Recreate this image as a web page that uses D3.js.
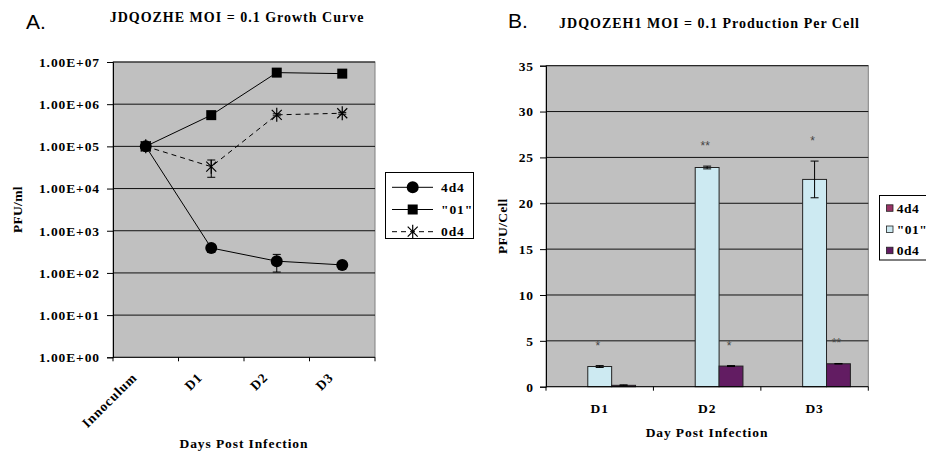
<!DOCTYPE html>
<html><head><meta charset="utf-8">
<script src="https://cdn.jsdelivr.net/npm/d3@7"></script>
<style>
body{margin:0;background:#fff}
svg text{font-family:"Liberation Serif","Times New Roman",serif;font-weight:bold;fill:#000}
svg text.xl{font-size:13.5px;letter-spacing:0.9px}
svg text.ttl{font-size:14px;letter-spacing:1px}
svg text.panel{font-family:"Liberation Sans",Arial,sans-serif;font-weight:normal;font-size:21px;letter-spacing:0}
svg text.sig{font-family:"Liberation Sans",Arial,sans-serif;font-weight:normal;font-size:12px;fill:#444}
</style></head><body>
<svg id="c" width="926" height="453"></svg>
<script>
// Panel A: virus titre over time (PFU/ml, log scale)
const growthDays = ["Innoculum", "D1", "D2", "D3"];
const growth4d4 = [1e5, 390, 190, 155];
const growth4d4Err = [0, 80, 85, 10];
const growth01 = [1e5, 5.5e5, 5.6e6, 5.3e6];
const growth01Err = [0, 2e4, 2e5, 2e5];
const growth0d4 = [1e5, 3.3e4, 5.6e5, 6.1e5];
const growth0d4Err = [0, 1.45e4, 3e4, 3e4];
const growthTicks = [1, 10, 100, 1e3, 1e4, 1e5, 1e6, 1e7];

// Panel B: production per cell
const cellDays = ["D1", "D2", "D3"];
const cellSeries = ["4d4", "\"01\"", "0d4"];
const cell4d4 = [0, 0, 0];
const cell4d4Err = [0, 0, 0];
const cell01 = [2.2, 23.9, 22.6];
const cell01Err = [0.1, 0.15, 2.0];
const cell0d4 = [0.15, 2.25, 2.5];
const cell0d4Err = [0.05, 0.05, 0.03];
const cell4d4Sig = ["", "", ""];
const cell01Sig = ["*", "**", "*"];
const cell0d4Sig = ["", "*", "**"];
const cellTicks = [0, 5, 10, 15, 20, 25, 30, 35];
const cellColors = ["#993366", "#CDEAF2", "#621C62"];

const svg = d3.select("#c");
const PLOT_BG = "#C0C0C0", FRAME = "#808080";

/* ---------------- Panel A ---------------- */
{
  const L = 113, R = 375, T = 62, B = 357.3;
  const x = d3.scaleBand().domain(growthDays).range([L, R]);
  const cx = d => x(d) + x.bandwidth() / 2;
  const y = d3.scaleLog().domain([1, 1e7]).range([B, T]);
  const g = svg.append("g");

  g.append("rect").attr("x", L).attr("y", T).attr("width", R - L).attr("height", B - T)
    .attr("fill", PLOT_BG).attr("stroke", FRAME).attr("stroke-width", 1);

  g.selectAll("line.grid").data(growthTicks.filter(v => v > 1)).join("line")
    .attr("x1", L).attr("x2", R).attr("y1", d => y(d)).attr("y2", d => y(d))
    .attr("stroke", "#111").attr("stroke-width", 1);

  const fmtE = v => {
    const e = Math.round(Math.log10(v));
    return (v / Math.pow(10, e)).toFixed(2) + "E+" + String(e).padStart(2, "0");
  };
  const ya = g.append("g").attr("transform", `translate(${L},0)`)
    .call(d3.axisLeft(y).tickValues(growthTicks).tickFormat(fmtE).tickSize(6).tickPadding(7));
  ya.select(".domain").attr("stroke", "#000");
  ya.selectAll(".tick line").attr("stroke", "#000");
  ya.selectAll(".tick text").attr("class", "xl").attr("font-size", null).attr("font-family", null);

  // category axis
  g.append("line").attr("x1", L).attr("x2", R).attr("y1", B).attr("y2", B).attr("stroke", "#000");
  const bounds = growthDays.map(d => x(d)).concat([R]);
  g.selectAll("line.xt").data(bounds).join("line")
    .attr("x1", d => d).attr("x2", d => d).attr("y1", B).attr("y2", B + 4).attr("stroke", "#000");
  g.selectAll("text.xlab").data(growthDays).join("text")
    .attr("class", "xl").attr("text-anchor", "end")
    .attr("transform", d => `translate(${cx(d) - 8},${B + 21}) rotate(-45)`)
    .text(d => d);

  const series = [
    { name: "4d4", v: growth4d4, e: growth4d4Err, marker: "circle", dash: null },
    { name: "\"01\"", v: growth01, e: growth01Err, marker: "square", dash: null },
    { name: "0d4", v: growth0d4, e: growth0d4Err, marker: "star", dash: "5,4" }
  ];

  const drawMarker = (sel, type, px, py) => {
    if (type === "circle") sel.append("circle").attr("cx", px).attr("cy", py).attr("r", 6).attr("fill", "#000");
    else if (type === "square") sel.append("rect").attr("x", px - 5).attr("y", py - 5).attr("width", 10).attr("height", 10).attr("fill", "#000");
    else sel.append("path")
      .attr("d", `M${px - 5},${py - 5}L${px + 5},${py + 5}M${px + 5},${py - 5}L${px - 5},${py + 5}M${px},${py - 7}L${px},${py + 7}`)
      .attr("stroke", "#000").attr("stroke-width", 1.2).attr("fill", "none");
  };

  const line = d3.line().x((d, i) => cx(growthDays[i])).y(d => y(d));
  series.forEach(s => {
    const sg = g.append("g");
    sg.append("path").attr("d", line(s.v)).attr("fill", "none").attr("stroke", "#000")
      .attr("stroke-width", 1).attr("stroke-dasharray", s.dash);
    s.v.forEach((v, i) => {
      if (s.e[i] > 0) {
        const px = cx(growthDays[i]);
        const y1 = y(v + s.e[i]), y2 = y(Math.max(v - s.e[i], 1));
        sg.append("line").attr("x1", px).attr("x2", px).attr("y1", y1).attr("y2", y2).attr("stroke", "#000");
        [y1, y2].forEach(yy => sg.append("line").attr("x1", px - 4).attr("x2", px + 4)
          .attr("y1", yy).attr("y2", yy).attr("stroke", "#000"));
      }
    });
    s.v.forEach((v, i) => drawMarker(sg, s.marker, cx(growthDays[i]), y(v)));
  });

  // legend
  const lg = g.append("g");
  lg.append("rect").attr("x", 385.5).attr("y", 172.5).attr("width", 88).attr("height", 66)
    .attr("fill", "#fff").attr("stroke", "#000");
  series.forEach((s, i) => {
    const ry = 187.3 + i * 22.2;
    lg.append("line").attr("x1", 392).attr("x2", 433).attr("y1", ry).attr("y2", ry)
      .attr("stroke", "#000").attr("stroke-dasharray", s.dash);
    drawMarker(lg, s.marker, 412.7, ry);
    lg.append("text").attr("class", "xl").attr("x", 441).attr("y", ry + 4.5).text(s.name);
  });

  g.append("text").attr("class", "xl").attr("text-anchor", "middle")
    .attr("x", (L + R) / 2).attr("y", 448).text("Days Post Infection");
  g.append("text").attr("class", "xl").attr("text-anchor", "middle").style("letter-spacing", "0.3px")
    .attr("transform", `translate(21.5,${(T + B) / 2}) rotate(-90)`).text("PFU/ml");
  g.append("text").attr("class", "ttl").attr("text-anchor", "middle")
    .attr("x", 237).attr("y", 22).text("JDQOZHE MOI = 0.1 Growth Curve");
  g.append("text").attr("class", "panel").attr("x", 26).attr("y", 29).text("A.");
}

/* ---------------- Panel B ---------------- */
{
  const L = 546, R = 868.3, T = 65.7, B = 386.7;
  const x = d3.scaleBand().domain(cellDays).range([L, R]);
  const xs = d3.scaleBand().domain(cellSeries).range([0, x.bandwidth()]).paddingInner(0).paddingOuter(0.75);
  const y = d3.scaleLinear().domain([0, 35]).range([B, T]);
  const g = svg.append("g");

  g.append("rect").attr("x", L).attr("y", T).attr("width", R - L).attr("height", B - T)
    .attr("fill", PLOT_BG).attr("stroke", FRAME).attr("stroke-width", 1);
  g.selectAll("line.grid").data(cellTicks.filter(v => v > 0)).join("line")
    .attr("x1", L).attr("x2", R).attr("y1", d => y(d)).attr("y2", d => y(d))
    .attr("stroke", "#111").attr("stroke-width", 1);

  const ya = g.append("g").attr("transform", `translate(${L},0)`)
    .call(d3.axisLeft(y).tickValues(cellTicks).tickFormat(d3.format("d")).tickSize(6).tickPadding(6));
  ya.select(".domain").attr("stroke", "#000");
  ya.selectAll(".tick line").attr("stroke", "#000");
  ya.selectAll(".tick text").attr("class", "xl").attr("font-size", null).attr("font-family", null);

  const values = [cell4d4, cell01, cell0d4];
  const errs = [cell4d4Err, cell01Err, cell0d4Err];
  const sigs = [cell4d4Sig, cell01Sig, cell0d4Sig];

  cellSeries.forEach((s, si) => {
    cellDays.forEach((d, di) => {
      const v = values[si][di], e = errs[si][di];
      const bx = x(d) + xs(s), bw = xs.bandwidth();
      if (v > 0) {
        g.append("rect").attr("x", bx).attr("y", y(v)).attr("width", bw).attr("height", B - y(v))
          .attr("fill", cellColors[si]).attr("stroke", "#222").attr("stroke-width", 1);
      }
      const px = bx + bw / 2;
      if (e > 0) {
        const y1 = y(v + e), y2 = y(v - e);
        g.append("line").attr("x1", px).attr("x2", px).attr("y1", y1).attr("y2", y2).attr("stroke", "#000");
        [y1, y2].forEach(yy => g.append("line").attr("x1", px - 4).attr("x2", px + 4)
          .attr("y1", yy).attr("y2", yy).attr("stroke", "#000"));
      }
      if (sigs[si][di]) {
        g.append("text").attr("class", "sig").attr("text-anchor", "middle")
          .attr("x", px - 2).attr("y", y(v + e) - 16).text(sigs[si][di]);
      }
    });
  });

  // category axis
  g.append("line").attr("x1", L).attr("x2", R).attr("y1", B).attr("y2", B).attr("stroke", "#000");
  const bounds = cellDays.map(d => x(d)).concat([R]);
  g.selectAll("line.xt").data(bounds).join("line")
    .attr("x1", d => d).attr("x2", d => d).attr("y1", B).attr("y2", B + 4).attr("stroke", "#000");
  g.selectAll("text.xlab").data(cellDays).join("text")
    .attr("class", "xl").attr("text-anchor", "middle")
    .attr("x", d => x(d) + x.bandwidth() / 2).attr("y", 412.5).text(d => d);

  // legend
  const lg = g.append("g");
  lg.append("rect").attr("x", 879.5).attr("y", 195.5).attr("width", 70).attr("height", 64.5)
    .attr("fill", "#fff").attr("stroke", "#000");
  cellSeries.forEach((s, i) => {
    const ry = 208.3 + i * 21.2;
    lg.append("rect").attr("x", 886.5).attr("y", ry - 3.5).attr("width", 6.5).attr("height", 6.5)
      .attr("fill", cellColors[i]).attr("stroke", "#222").attr("stroke-width", 0.8);
    lg.append("text").attr("class", "xl").style("letter-spacing", "0.5px")
      .attr("x", 896.7).attr("y", ry + 4.5).text(s);
  });

  g.append("text").attr("class", "xl").attr("text-anchor", "middle")
    .attr("x", 707).attr("y", 437).text("Day Post Infection");
  g.append("text").attr("class", "xl").attr("text-anchor", "middle").style("letter-spacing", "0.3px")
    .attr("transform", `translate(506.5,${(T + B) / 2}) rotate(-90)`).text("PFU/Cell");
  g.append("text").attr("class", "ttl").attr("text-anchor", "middle")
    .attr("x", 709.5).attr("y", 28).text("JDQOZEH1 MOI = 0.1 Production Per Cell");
  g.append("text").attr("class", "panel").attr("x", 508).attr("y", 28).text("B.");
}
</script>
</body></html>
